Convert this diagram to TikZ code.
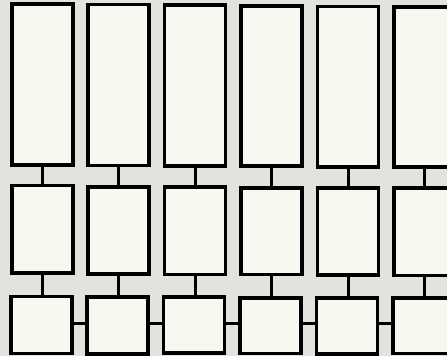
\documentclass[tikz,border=0pt]{standalone}
\definecolor{bgc}{RGB}{227,227,222}
\definecolor{boxc}{RGB}{249,248,240}
\begin{document}
\begin{tikzpicture}[x=1pt,y=-1pt,
  boxs/.style={draw=black,fill=boxc,line width=3.3pt,inner sep=0pt,outer sep=0pt,minimum width=61pt},
  conn/.style={draw=black,line width=3pt}]
\fill[bgc] (0,0) rectangle (447,356);
\useasboundingbox (0,0) rectangle (447,356);
\foreach \i/\cx/\tt/\tb/\mt/\mb/\bt/\bb in {
  1/42.5/4/165/185.5/273/296.5/353.5,
  2/118.5/4.5/165.5/187/274/297/354,
  3/195/5/166/187/274.5/297/353,
  4/271.5/6/166/188/274.5/298/353.5,
  5/348/6.5/167/188/275/298/354,
  6/424.5/7/167/188/275.5/298/353.5}{
  \pgfmathsetmacro{\th}{\tb-\tt}
  \pgfmathsetmacro{\tc}{(\tb+\tt)/2}
  \pgfmathsetmacro{\mh}{\mb-\mt}
  \pgfmathsetmacro{\mc}{(\mb+\mt)/2}
  \pgfmathsetmacro{\bh}{\bb-\bt}
  \pgfmathsetmacro{\bc}{(\bb+\bt)/2}
  \node[boxs,minimum height=\th pt] (t\i) at (\cx,\tc) {};
  \node[boxs,minimum height=\mh pt] (m\i) at (\cx,\mc) {};
  \node[boxs,minimum height=\bh pt] (b\i) at (\cx-1,\bc) {};
  \draw[conn] (t\i.south) -- (m\i.north);
  \draw[conn] (m\i.south) -- (b\i.north -| m\i.south);
}
\foreach \a/\b in {1/2,2/3,3/4,4/5,5/6}{
  \draw[conn] (b\a.east |- 0,323) -- (b\b.west |- 0,323);
}
\end{tikzpicture}
\end{document}
